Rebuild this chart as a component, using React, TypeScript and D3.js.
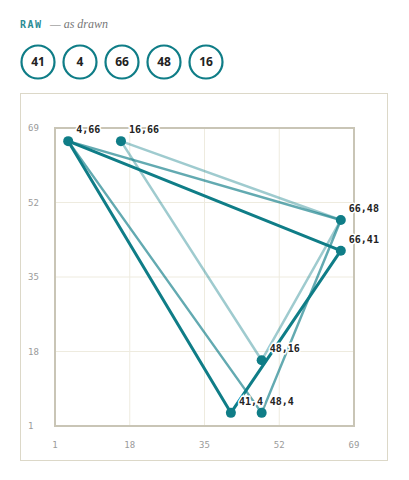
import React, { useEffect, useRef } from 'react';
import * as d3 from 'd3';

// raw sequence, drawn as sliding triples
const raw = [41, 4, 66, 48, 16];
const xTicks = [1, 18, 35, 52, 69];
const yTicks = [1, 18, 35, 52, 69];
const triOpacity = [1, 0.65, 0.4];
const triWidth = [3, 2.5, 2.5];

const TEAL = '#0f7d87';

function App() {
  const ref = useRef<SVGSVGElement>(null);

  useEffect(() => {
    const svg = d3.select(ref.current);
    svg.selectAll('*').remove();

    // header
    svg.append('text')
      .attr('x', 20).attr('y', 28)
      .attr('font-family', 'DejaVu Sans Mono, monospace')
      .attr('font-size', 10).attr('font-weight', 'bold')
      .attr('letter-spacing', 1.5)
      .attr('fill', '#2b8c95')
      .text('RAW');
    svg.append('text')
      .attr('x', 50).attr('y', 28)
      .attr('font-family', 'Liberation Serif, serif')
      .attr('font-style', 'italic')
      .attr('font-size', 12)
      .attr('fill', '#777')
      .text('— as drawn');

    // raw values as rings
    const chips = svg.append('g');
    raw.forEach((v, i) => {
      const cx = 38 + i * 42;
      chips.append('circle')
        .attr('cx', cx).attr('cy', 62).attr('r', 16.5)
        .attr('fill', '#fff').attr('stroke', TEAL).attr('stroke-width', 2.2);
      chips.append('text')
        .attr('x', cx).attr('y', 66)
        .attr('text-anchor', 'middle')
        .attr('font-family', 'Open Sans, sans-serif')
        .attr('font-weight', 'bold').attr('font-size', 12)
        .attr('fill', '#222')
        .text(v);
    });

    // outer panel
    svg.append('rect')
      .attr('x', 20.5).attr('y', 93.5).attr('width', 367).attr('height', 367)
      .attr('fill', 'none').attr('stroke', '#dcd8c8').attr('stroke-width', 1);

    const x = d3.scaleLinear().domain([1, 69]).range([55, 354]);
    const y = d3.scaleLinear().domain([1, 69]).range([426, 128]);

    // grid
    const grid = svg.append('g');
    xTicks.slice(1, -1).forEach(t => {
      grid.append('line')
        .attr('x1', x(t)).attr('x2', x(t)).attr('y1', y(69)).attr('y2', y(1))
        .attr('stroke', '#eeebdf').attr('stroke-width', 1);
    });
    yTicks.slice(1, -1).forEach(t => {
      grid.append('line')
        .attr('x1', x(1)).attr('x2', x(69)).attr('y1', y(t)).attr('y2', y(t))
        .attr('stroke', '#eeebdf').attr('stroke-width', 1);
    });

    // plot frame
    svg.append('rect')
      .attr('x', x(1)).attr('y', y(69))
      .attr('width', x(69) - x(1)).attr('height', y(1) - y(69))
      .attr('fill', 'none').attr('stroke', '#c9c5b6').attr('stroke-width', 2);

    // tick labels
    svg.append('g').selectAll('text').data(xTicks).enter().append('text')
      .attr('x', d => x(d)).attr('y', 448)
      .attr('text-anchor', 'middle')
      .attr('font-family', 'DejaVu Sans Mono, monospace')
      .attr('font-size', 9).attr('fill', '#9a9a9a')
      .text(d => d);
    svg.append('g').selectAll('text').data(yTicks).enter().append('text')
      .attr('x', 28).attr('y', d => y(d) + 3)
      .attr('font-family', 'DejaVu Sans Mono, monospace')
      .attr('font-size', 9).attr('fill', '#9a9a9a')
      .text(d => d);

    // triangles from each window of three values
    const tris: [number, number][][] = [];
    for (let i = 0; i + 2 < raw.length; i++) {
      const w = raw.slice(i, i + 3);
      tris.push([[w[0], w[1]], [w[1], w[2]], [w[2], w[0]]]);
    }
    const line = d3.line<[number, number]>().x(d => x(d[0])).y(d => y(d[1])).curve(d3.curveLinearClosed);
    const triG = svg.append('g');
    tris.slice().reverse().forEach((t, ri) => {
      const i = tris.length - 1 - ri;
      triG.append('path')
        .attr('d', line(t))
        .attr('fill', 'none')
        .attr('stroke', TEAL)
        .attr('stroke-opacity', triOpacity[i])
        .attr('stroke-width', triWidth[i])
        .attr('stroke-linejoin', 'round');
    });

    // unique points
    const seen = new Set<string>();
    const pts: [number, number][] = [];
    tris.forEach(t => t.forEach(p => {
      const k = p.join(',');
      if (!seen.has(k)) { seen.add(k); pts.push(p); }
    }));
    svg.append('g').selectAll('circle').data(pts).enter().append('circle')
      .attr('cx', d => x(d[0])).attr('cy', d => y(d[1])).attr('r', 5)
      .attr('fill', TEAL);
    svg.append('g').selectAll('text').data(pts).enter().append('text')
      .attr('x', d => x(d[0]) + 8).attr('y', d => y(d[1]) - 8)
      .attr('font-family', 'DejaVu Sans Mono, monospace')
      .attr('font-size', 10).attr('font-weight', 'bold')
      .attr('fill', '#222')
      .attr('stroke', '#fff').attr('stroke-width', 3)
      .attr('paint-order', 'stroke')
      .text(d => `${d[0]},${d[1]}`);
  }, []);

  return (
    <div>
      <svg ref={ref} width={393} height={470} style={{ display: 'block', margin: '-8px' }}></svg>
    </div>
  );
}

export default App;
